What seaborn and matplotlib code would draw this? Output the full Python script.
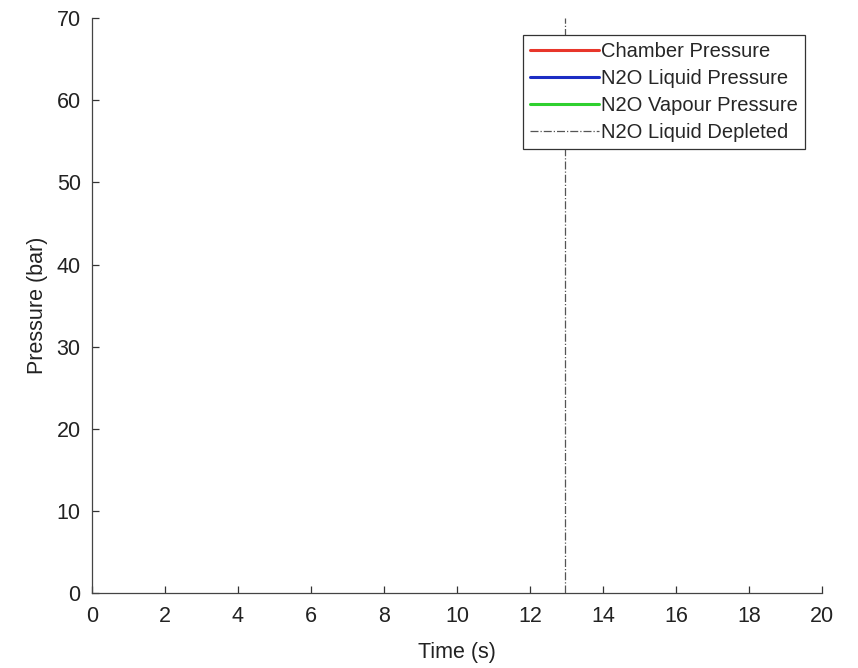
import numpy as np
import matplotlib.pyplot as plt
import seaborn as sns

# simulated series (no samples shown in the plotted window)
time_s = []
chamber_pressure = []
liquid_pressure = []
vapour_pressure = []
liquid_depleted_time = 12.95

series_labels = ['Chamber Pressure', 'N2O Liquid Pressure', 'N2O Vapour Pressure']
series_colors = ['#e8362a', '#1c2dc4', '#2fd02f']
x_ticks = list(range(0, 21, 2))
y_ticks = list(range(0, 71, 10))

sns.set_style('ticks')
plt.rcParams['font.family'] = ['Liberation Sans', 'DejaVu Sans']

fig = plt.figure(figsize=(8.58, 6.68), dpi=100)
ax = fig.add_axes([0.107, 0.112, 0.851, 0.861])

for vals, lab, col in zip([chamber_pressure, liquid_pressure, vapour_pressure], series_labels, series_colors):
    ax.plot(time_s, vals, color=col, linewidth=2.2, label=lab)
ax.axvline(liquid_depleted_time, color='#555555', linestyle='-.', linewidth=0.9, label='N2O Liquid Depleted')

ax.set_xlim(0, 20)
ax.set_ylim(0, 70)
ax.set_xticks(x_ticks)
ax.set_yticks(y_ticks)
ax.tick_params(direction='in', length=5, width=0.9, color='#333333', labelsize=15.5, labelcolor='#222222')
ax.tick_params(axis='x', pad=9)
ax.tick_params(axis='y', pad=8)
for s in ['top', 'right']:
    ax.spines[s].set_visible(False)
for s in ['left', 'bottom']:
    ax.spines[s].set_color('#444444')
    ax.spines[s].set_linewidth(0.9)

ax.set_xlabel('Time (s)', fontsize=15.5, color='#222222', labelpad=11)
ax.set_ylabel('Pressure (bar)', fontsize=15.5, color='#222222', labelpad=6)

leg = ax.legend(loc='upper right', fontsize=14.5, handlelength=3.4, handletextpad=0.1,
                labelspacing=0.4, borderpad=0.35, borderaxespad=0.85, fancybox=False, framealpha=1)
leg.get_frame().set_edgecolor('#333333')
leg.get_frame().set_linewidth(0.9)

fig.savefig('out.png', dpi=100)
